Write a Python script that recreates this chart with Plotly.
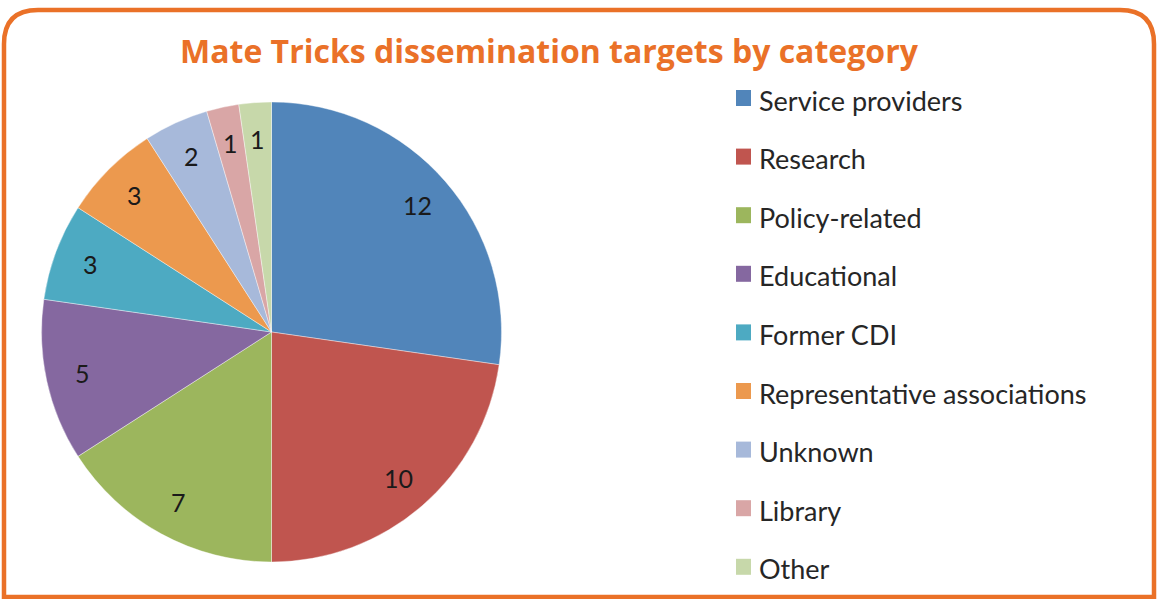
import math
import plotly.graph_objects as go

W, H = 1158, 599

categories = ["Service providers", "Research", "Policy-related", "Educational", "Former CDI",
              "Representative associations", "Unknown", "Library", "Other"]
values = [12, 10, 7, 5, 3, 3, 2, 1, 1]
colors = ["#5185BA", "#C0554F", "#9CB65D", "#8568A0", "#4DAAC2",
          "#EC994E", "#A7B9DA", "#D9A6A6", "#C7D8AA"]

ORANGE = "#EA7128"

def px(x, y):
    return x / W, 1 - y / H

# pie placement (pixels)
CX, CY, R = 271.5, 332, 230

fig = go.Figure()
fig.add_trace(go.Pie(
    labels=categories, values=values, sort=False, direction="clockwise", rotation=0,
    marker=dict(colors=colors, line=dict(color="white", width=0.4)),
    textinfo="none",
    domain=dict(x=[(CX - R) / W, (CX + R) / W], y=[1 - (CY + R) / H, 1 - (CY - R) / H]),
    showlegend=False, hoverinfo="label+value",
))

# rounded border
x0, y0, x1, y1, r = 4, 10, 1154, 597, 34
def P(x, y):
    a, b = px(x, y)
    return f"{a:.5f},{b:.5f}"
path = (f"M {P(x0 + r, y0)} L {P(x1 - r, y0)} Q {P(x1, y0)} {P(x1, y0 + r)} "
        f"L {P(x1, y1)} L {P(x0, y1)} L {P(x0, y0 + r)} Q {P(x0, y0)} {P(x0 + r, y0)} Z")
shapes = [dict(type="path", xref="paper", yref="paper", path=path,
               line=dict(color=ORANGE, width=4.5), fillcolor="rgba(0,0,0,0)")]

annotations = []
# slice value labels, placed from the data (mid-angle of each slice)
total = sum(values)
cum = 0
for v in values:
    mid = (cum + v / 2) / total * 2 * math.pi
    cum += v
    rr = 0.84 * R
    lx, ly = px(CX + rr * math.sin(mid), CY - rr * math.cos(mid))
    annotations.append(dict(x=lx, y=ly, xref="paper", yref="paper", text=str(v), showarrow=False,
                            xanchor="center", yanchor="middle",
                            font=dict(family="Lato", size=25, color="#1a1a1a")))

# legend drawn from categories/colors
row0, gap = 100, 58.6
for i, (cat, col) in enumerate(zip(categories, colors)):
    yc = row0 + i * gap
    sx0, sy0 = px(736, yc - 10)
    sx1, sy1 = px(751, yc + 6)
    shapes.append(dict(type="rect", xref="paper", yref="paper", x0=sx0, x1=sx1, y0=sy1, y1=sy0,
                       fillcolor=col, line=dict(width=0)))
    tx, ty = px(757, yc)
    annotations.append(dict(x=tx, y=ty, xref="paper", yref="paper", text=cat, showarrow=False,
                            xanchor="left", yanchor="middle",
                            font=dict(family="Lato", size=27, color="#262626")))

tx, ty = px(549, 50)
annotations.append(dict(x=tx, y=ty, xref="paper", yref="paper",
                        text="<b>Mate Tricks dissemination targets by category</b>",
                        showarrow=False, xanchor="center", yanchor="middle",
                        font=dict(family="Open Sans", size=32, color=ORANGE)))

fig.update_layout(width=W, height=H, margin=dict(l=0, r=0, t=0, b=0),
                  paper_bgcolor="white", plot_bgcolor="white",
                  shapes=shapes, annotations=annotations)

fig.write_html("out.html", config={"displayModeBar": False},
               post_script="document.body.style.margin='0';document.body.style.overflow='hidden';")
